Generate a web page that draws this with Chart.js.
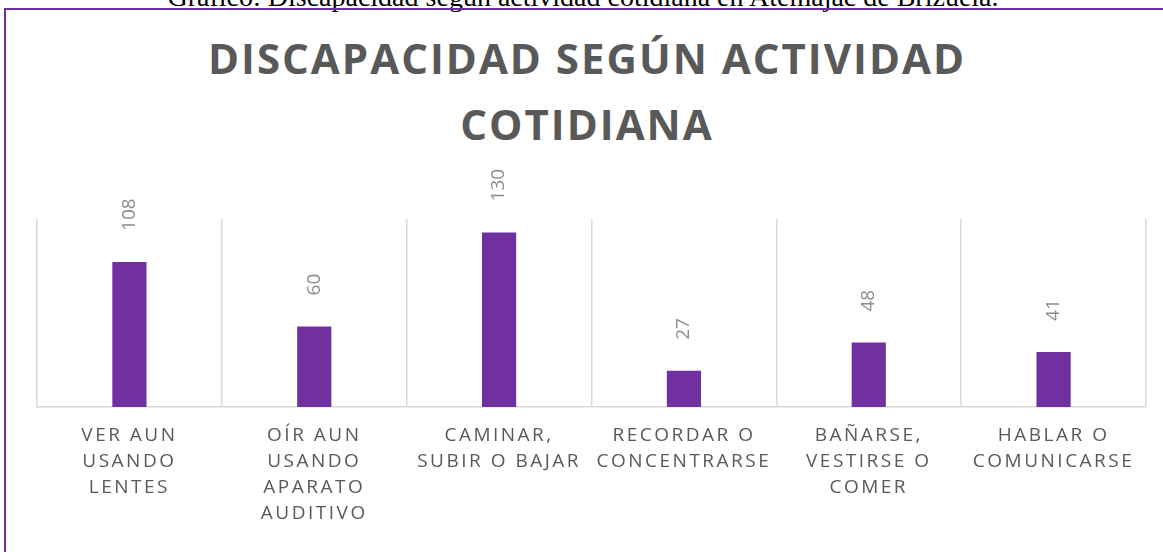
<!DOCTYPE html>
<html lang="es">

<head>
    <meta charset="UTF-8" />
    <title>Discapacidad según actividad cotidiana</title>
    <script src="https://cdn.jsdelivr.net/npm/chart.js"></script>
    <style>
        html, body { margin: 0; padding: 0; background: #fff; overflow: hidden; }
        #pagina { position: relative; width: 1163px; height: 552px; overflow: hidden; }
        #leyenda {
            position: absolute; left: 0; top: -17px; width: 1166px; text-align: center;
            font-family: "Liberation Serif", "Times New Roman", serif; font-size: 28px; line-height: 28px;
            color: #000; white-space: nowrap;
        }
        #marco {
            position: absolute; left: 4px; top: 8px; width: 1300px; height: 700px;
            border-top: 2px solid #7030a0; border-left: 2px solid #7030a0; z-index: 2;
        }
        #titulo {
            position: absolute; left: 0; top: 25px; width: 1172px; text-align: center;
            font-family: "Open Sans", sans-serif; font-weight: bold; font-size: 42px; line-height: 66px;
            letter-spacing: 2px; padding-left: 2px; color: #595959; box-sizing: border-box;
        }
        #grafica { position: absolute; left: 0; top: 0; }
    </style>
</head>

<body>
    <div id="pagina">
        <div id="leyenda">Gráfico: Discapacidad según actividad cotidiana en Atemajac de Brizuela.</div>
        <div id="marco"></div>
        <div id="titulo">DISCAPACIDAD SEGÚN ACTIVIDAD<br>COTIDIANA</div>
        <canvas id="grafica" width="1163" height="552"></canvas>
    </div>

    <script>
        // categorías (una línea por renglón, como en la gráfica original)
        const categorias = [
            ["VER AUN", "USANDO", "LENTES"],
            ["OÍR AUN", "USANDO", "APARATO", "AUDITIVO"],
            ["CAMINAR,", "SUBIR O BAJAR"],
            ["RECORDAR O", "CONCENTRARSE"],
            ["BAÑARSE,", "VESTIRSE O", "COMER"],
            ["HABLAR O", "COMUNICARSE"]
        ];
        const personas = [108, 60, 130, 27, 48, 41];
        const ejeMax = 140;

        // etiquetas de datos giradas encima de cada barra
        const etiquetasDatos = {
            id: "etiquetasDatos",
            beforeDraw(chart) {
                chart.ctx.letterSpacing = "2.5px";
            },
            afterDatasetsDraw(chart) {
                const ctx = chart.ctx;
                const meta = chart.getDatasetMeta(0);
                ctx.save();
                ctx.letterSpacing = "0px";
                ctx.fillStyle = "#8c8c8c";
                ctx.font = "19px 'Open Sans'";
                ctx.textAlign = "left";
                ctx.textBaseline = "middle";
                meta.data.forEach((barra, i) => {
                    ctx.save();
                    ctx.translate(barra.x, barra.y - 31);
                    ctx.rotate(-Math.PI / 2);
                    ctx.fillText(String(personas[i]), 0, 0);
                    ctx.restore();
                });
                ctx.restore();
            }
        };

        new Chart(document.getElementById("grafica"), {
            type: "bar",
            data: {
                labels: categorias,
                datasets: [{
                    data: personas,
                    backgroundColor: "#7030a0",
                    barPercentage: 0.185,
                    categoryPercentage: 1
                }]
            },
            options: {
                responsive: false,
                animation: false,
                devicePixelRatio: 1,
                layout: { padding: { top: 219, left: 37, right: 17, bottom: 0 } },
                plugins: {
                    legend: { display: false },
                    tooltip: { enabled: false },
                    title: { display: false }
                },
                scales: {
                    x: {
                        grid: { color: "#d9d9d9", lineWidth: 1.5, drawTicks: false, offset: true },
                        border: { color: "#d9d9d9", width: 1.5 },
                        ticks: {
                            color: "#595959",
                            font: { family: "Open Sans", size: 19, lineHeight: "26px" },
                            padding: 16,
                            maxRotation: 0,
                            autoSkip: false
                        },
                        afterFit(scale) { scale.height = 145; }
                    },
                    y: { display: false, min: 0, max: ejeMax }
                }
            },
            plugins: [etiquetasDatos]
        });
    </script>
</body>

</html>
